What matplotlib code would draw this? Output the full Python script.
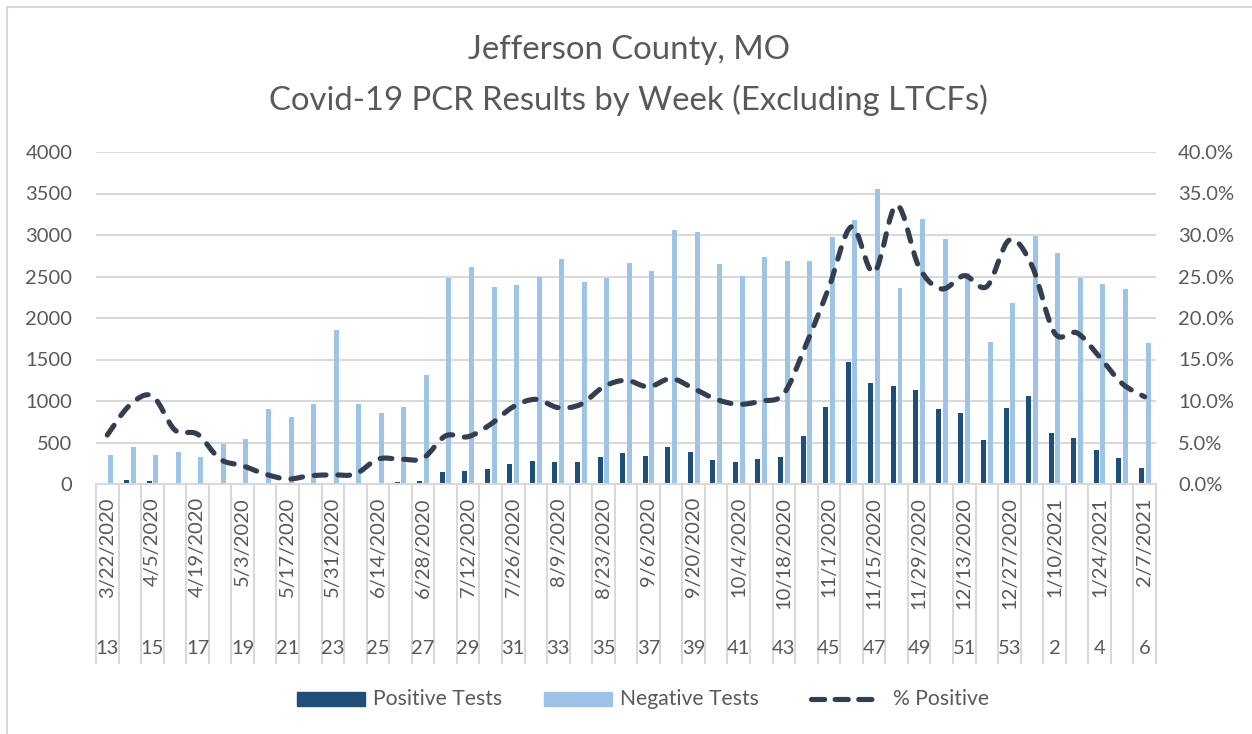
import matplotlib
matplotlib.use("Agg")
import matplotlib.pyplot as plt
from matplotlib.path import Path
from matplotlib.patches import PathPatch, Rectangle
from matplotlib.lines import Line2D
import matplotlib.transforms as mtransforms

# ---- data ----
week_numbers = [13, 14, 15, 16, 17, 18, 19, 20, 21, 22, 23, 24, 25, 26, 27, 28,
                29, 30, 31, 32, 33, 34, 35, 36, 37, 38, 39, 40, 41, 42, 43, 44,
                45, 46, 47, 48, 49, 50, 51, 52, 53, 1, 2, 3, 4, 5, 6]
week_dates = ["3/22/2020", "3/29/2020", "4/5/2020", "4/12/2020", "4/19/2020",
              "4/26/2020", "5/3/2020", "5/10/2020", "5/17/2020", "5/24/2020",
              "5/31/2020", "6/7/2020", "6/14/2020", "6/21/2020", "6/28/2020",
              "7/5/2020", "7/12/2020", "7/19/2020", "7/26/2020", "8/2/2020",
              "8/9/2020", "8/16/2020", "8/23/2020", "8/30/2020", "9/6/2020",
              "9/13/2020", "9/20/2020", "9/27/2020", "10/4/2020", "10/11/2020",
              "10/18/2020", "10/25/2020", "11/1/2020", "11/8/2020", "11/15/2020",
              "11/22/2020", "11/29/2020", "12/6/2020", "12/13/2020", "12/20/2020",
              "12/27/2020", "1/3/2021", "1/10/2021", "1/17/2021", "1/24/2021",
              "1/31/2021", "2/7/2021"]
positive_tests = [10, 48, 40, 15, 12, 5, 2, 1, 1, 2, 8, 3, 15, 28, 40, 149,
                  153, 181, 245, 277, 269, 261, 326, 378, 338, 442, 390, 293,
                  261, 301, 326, 583, 924, 1467, 1218, 1186, 1137, 904, 852,
                  531, 912, 1061, 615, 551, 410, 318, 193]
negative_tests = [354, 442, 354, 386, 330, 482, 539, 900, 812, 969, 1861, 969,
                  856, 924, 1314, 2480, 2613, 2379, 2392, 2492, 2705, 2432,
                  2480, 2665, 2572, 3063, 3039, 2653, 2512, 2737, 2681, 2689,
                  2970, 3183, 3549, 2359, 3195, 2946, 2540, 1708, 2183, 2982,
                  2789, 2484, 2412, 2355, 1700]
pct_positive = [5.9, 9.5, 10.6, 6.5, 6.0, 3.0, 2.2, 1.2, 0.6, 1.0, 1.1, 1.2,
                3.0, 3.0, 3.1, 5.8, 5.7, 7.2, 9.3, 10.2, 9.2, 9.6, 11.7, 12.5,
                11.7, 12.7, 11.5, 10.2, 9.6, 10.0, 10.9, 16.9, 23.7, 31.0, 25.5,
                33.6, 26.1, 23.5, 25.1, 23.8, 29.4, 26.3, 18.2, 18.2, 15.3,
                12.1, 10.5]

DARK = "#1F4E79"
LIGHT = "#9DC3E6"
LINE = "#333F50"
GRID = "#D9D9D9"
TEXT = "#595959"
FONT = "Lato"

plt.rcParams["font.family"] = [FONT, "DejaVu Sans"]
plt.rcParams["lines.scale_dashes"] = False

W, H = 1252, 734
fig = plt.figure(figsize=(W / 100, H / 100), dpi=100)
ax = fig.add_axes([96 / W, 1 - 484 / H, (1156 - 96) / W, (484 - 152) / H])
ax2 = ax.twinx()

n = len(week_numbers)
x = list(range(n))

bw = 0.22
ax.bar([i - 0.149 for i in x], positive_tests, width=bw, color=DARK, zorder=2)
ax.bar([i + 0.149 for i in x], negative_tests, width=bw, color=LIGHT, zorder=2)

ax.set_xlim(-0.5, n - 0.5)
ax.set_ylim(0, 4000)
ax.set_yticks(range(0, 4001, 500))
ax.yaxis.grid(True, color=GRID, linewidth=1.5)
ax.set_axisbelow(True)
ax.tick_params(axis="y", length=0, pad=17, labelsize=14.5, labelcolor=TEXT)
ax.set_xticks([])
for s in ["top", "left", "right"]:
    ax.spines[s].set_visible(False)
ax.spines["bottom"].set_color(GRID)
ax.spines["bottom"].set_linewidth(1.5)

# smoothed % positive line (Excel-style bezier through the points)
yv = [p / 100 for p in pct_positive]
verts = [(x[0], yv[0])]
codes = [Path.MOVETO]
for i in range(n - 1):
    p0 = (x[max(i - 1, 0)], yv[max(i - 1, 0)])
    p1 = (x[i], yv[i])
    p2 = (x[i + 1], yv[i + 1])
    p3 = (x[min(i + 2, n - 1)], yv[min(i + 2, n - 1)])
    c1 = (p1[0] + (p2[0] - p0[0]) / 6, p1[1] + (p2[1] - p0[1]) / 6)
    c2 = (p2[0] - (p3[0] - p1[0]) / 6, p2[1] - (p3[1] - p1[1]) / 6)
    verts += [c1, c2, p2]
    codes += [Path.CURVE4] * 3
ax2.add_patch(PathPatch(Path(verts, codes), fill=False, edgecolor=LINE,
                        linewidth=3.7, linestyle=(0, (8.5, 8.5)),
                        capstyle="round", joinstyle="round", zorder=3))
ax2.set_ylim(0, 0.4)
ax2.set_yticks([i * 0.05 for i in range(9)])
ax2.set_yticklabels([f"{i * 5:.1f}%" for i in range(9)])
ax2.tick_params(axis="y", length=0, pad=16, labelsize=14.5, labelcolor=TEXT)
for s in ["top", "left", "right", "bottom"]:
    ax2.spines[s].set_visible(False)

# multi-level category axis: dates + week numbers
trans = mtransforms.blended_transform_factory(ax.transData, ax.transAxes)
bottom_frac = -(663 - 484) / (484 - 152)
for b in range(n + 1):
    ax.add_line(Line2D([b - 0.5, b - 0.5], [0, bottom_frac], transform=trans,
                       color=GRID, linewidth=1.5, clip_on=False))
for i in range(0, n, 2):
    ax.text(i, -(497 - 484) / 332, week_dates[i], transform=trans, rotation=90,
            ha="center", va="top", fontsize=14.5, color=TEXT)
    ax.text(i, -(648 - 484) / 332, str(week_numbers[i]), transform=trans,
            ha="center", va="center", fontsize=14.5, color=TEXT)

# title
fig.text(0.502, 1 - 59 / H, "Jefferson County, MO", ha="center",
         va="baseline", fontsize=23.7, color=TEXT)
fig.text(0.502, 1 - 110 / H, "Covid-19 PCR Results by Week (Excluding LTCFs)",
         ha="center", va="baseline", fontsize=23.7, color=TEXT)

# legend
ly = 1 - 699 / H
ph = 14 / H
fig.add_artist(Rectangle((297 / W, ly - ph / 2), 68 / W, ph, color=DARK,
                         transform=fig.transFigure))
fig.text(373 / W, ly, "Positive Tests", ha="left", va="center",
         fontsize=15.2, color=TEXT)
fig.add_artist(Rectangle((544 / W, ly - ph / 2), 68 / W, ph, color=LIGHT,
                         transform=fig.transFigure))
fig.text(620 / W, ly, "Negative Tests", ha="left", va="center",
         fontsize=15.2, color=TEXT)
fig.add_artist(Line2D([811 / W, 873 / W], [ly, ly], color=LINE, linewidth=3.7,
                      linestyle=(0, (9.5, 7.5)), solid_capstyle="round",
                      dash_capstyle="round", transform=fig.transFigure))
fig.text(893 / W, ly, "% Positive", ha="left", va="center",
         fontsize=15.2, color=TEXT)

# chart border
fig.add_artist(Rectangle((7 / W, -0.5), 2, (1 - 7 / H) + 0.5, fill=False,
                         edgecolor=GRID, linewidth=1.5,
                         transform=fig.transFigure))

fig.savefig("out.png", dpi=100, facecolor="white")
